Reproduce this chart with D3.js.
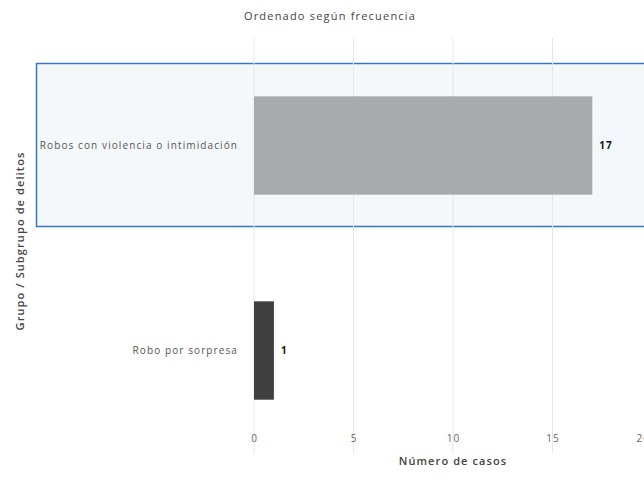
<!DOCTYPE html>
<html><head><meta charset="utf-8">
<script src="https://cdn.jsdelivr.net/npm/d3@7"></script>
<style>body{margin:0;background:#fff;font-family:"Open Sans",sans-serif;}</style>
</head><body>
<svg id="c" width="644" height="493"></svg>
<script>
const categories = ["Robos con violencia o intimidación", "Robo por sorpresa"];
const values = [17, 1];
const barColors = ["#a8aaad", "#404040"];
const xTicks = [0, 5, 10, 15, 20];
const title = "Ordenado según frecuencia";
const xTitle = "Número de casos";
const yTitle = "Grupo / Subgrupo de delitos";

const svg = d3.select("#c");
const x = d3.scaleLinear().domain([0, 20]).range([254, 652]);
const y = d3.scaleBand().domain(categories).range([43, 453]).paddingInner(0.52).paddingOuter(0.26);

// highlight box for first category
const y0 = d3.scaleBand().domain(categories).range([43, 453]);
svg.append("rect")
  .attr("x", 36.5).attr("y", y0(categories[0]) + 20.5)
  .attr("width", 620).attr("height", 163)
  .attr("fill", "#f4f8fb").attr("stroke", "#3a75c4").attr("stroke-width", 1.5);

// grid
svg.append("g").selectAll("line").data(xTicks).join("line")
  .attr("x1", d => x(d)).attr("x2", d => x(d))
  .attr("y1", 38).attr("y2", 453)
  .attr("stroke", "#e6e6e6").attr("stroke-width", 1);

// x axis
const xa = svg.append("g").attr("transform", "translate(0,435)")
  .call(d3.axisBottom(x).tickValues(xTicks).tickSize(0).tickPadding(0));
xa.select(".domain").remove();
xa.selectAll("text").attr("fill", "#666").attr("font-size", 10).attr("letter-spacing", 1)
  .attr("font-family", "Open Sans").attr("dy", "0.71em");
// last tick label partially visible at the right edge, as in the reference
xa.selectAll(".tick").filter(d => d === 20).select("text").attr("text-anchor", "start").attr("x", -16);

// y axis
const ya = svg.append("g").attr("transform", "translate(238,0)")
  .call(d3.axisLeft(y).tickSize(0).tickPadding(0));
ya.select(".domain").remove();
ya.selectAll("text").attr("fill", "#555").attr("font-size", 10).attr("letter-spacing", 1.1)
  .attr("font-family", "Open Sans");

// bars
svg.append("g").selectAll("rect").data(values).join("rect")
  .attr("x", x(0)).attr("y", (d, i) => y(categories[i]))
  .attr("width", d => x(d) - x(0)).attr("height", y.bandwidth())
  .attr("fill", (d, i) => barColors[i]);

// value labels
svg.append("g").selectAll("text").data(values).join("text")
  .attr("x", d => x(d) + 7).attr("y", (d, i) => y(categories[i]) + y.bandwidth() / 2)
  .attr("dy", "0.35em").attr("font-size", 10).attr("font-weight", "bold").attr("letter-spacing", 1)
  .attr("fill", "#111").text(d => d);

// titles
svg.append("text").attr("x", 330).attr("y", 20).attr("text-anchor", "middle")
  .attr("font-size", 11).attr("letter-spacing", 1.2).attr("fill", "#444").text(title);
svg.append("text").attr("x", 453).attr("y", 465).attr("text-anchor", "middle")
  .attr("font-size", 11).attr("font-weight", "600").attr("letter-spacing", 1.1).attr("fill", "#444").text(xTitle);
svg.append("text").attr("transform", "translate(24,241) rotate(-90)").attr("text-anchor", "middle")
  .attr("font-size", 11).attr("font-weight", "600").attr("letter-spacing", 1.1).attr("fill", "#444").text(yTitle);
</script>
</body></html>
